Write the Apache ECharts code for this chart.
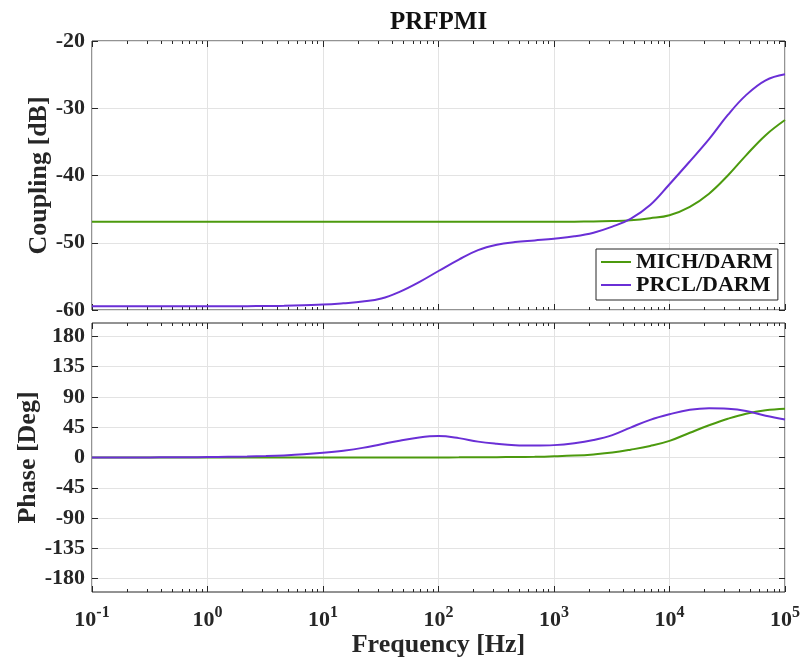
<!DOCTYPE html>
<html>
<head>
<meta charset="utf-8">
<title>PRFPMI</title>
<script src="https://cdn.jsdelivr.net/npm/echarts@6/dist/echarts.min.js"></script>
<style>
  html, body { margin: 0; padding: 0; background: #ffffff; }
  #chart { width: 804px; height: 665px; }
</style>
</head>
<body>
<div id="chart"></div>
<script>
// Frequency samples (Hz), six per decade, shared by every trace
const freqHz = [0.1, 0.15, 0.22, 0.32, 0.46, 0.68,
  1, 1.5, 2.2, 3.2, 4.6, 6.8,
  10, 15, 22, 32, 46, 68,
  100, 150, 220, 320, 460, 680,
  1000, 1500, 2200, 3200, 4600, 6800,
  10000, 15000, 22000, 32000, 46000, 68000,
  100000];

// Coupling magnitude (dB)
const michMagDb = [-46.87, -46.87, -46.87, -46.87, -46.87, -46.87,
  -46.87, -46.87, -46.87, -46.87, -46.87, -46.87,
  -46.87, -46.87, -46.87, -46.87, -46.87, -46.87,
  -46.87, -46.87, -46.87, -46.87, -46.87, -46.87,
  -46.87, -46.86, -46.85, -46.78, -46.65, -46.35,
  -45.9, -44.65, -42.7, -40.0, -37.0, -34.0,
  -31.75];
const prclMagDb = [-59.45, -59.45, -59.45, -59.45, -59.45, -59.45,
  -59.45, -59.44, -59.43, -59.41, -59.37, -59.28,
  -59.2, -59.0, -58.75, -58.3, -57.3, -55.85,
  -54.2, -52.5, -51.1, -50.3, -49.9, -49.65,
  -49.4, -49.05, -48.5, -47.6, -46.45, -44.4,
  -41.3, -37.9, -34.6, -31.0, -28.05, -25.85,
  -24.95];

// Coupling phase (deg)
const michPhaseDeg = [0, 0, 0, 0, 0, 0,
  0, 0, 0, 0, 0, 0,
  0, 0.02, 0.03, 0.05, 0.07, 0.1,
  0.15, 0.2, 0.3, 0.45, 0.7, 1.0,
  1.7, 2.8, 4.6, 7.3, 11.6, 17.2,
  24.7, 36.8, 47.9, 57.6, 65.2, 70.3,
  72.6];
const prclPhaseDeg = [0, 0.05, 0.1, 0.15, 0.25, 0.4,
  0.6, 0.95, 1.4, 2.1, 3.1, 4.7,
  7.0, 10.2, 14.3, 19.8, 25.0, 29.8,
  31.8, 28.8, 23.6, 20.4, 18.3, 17.8,
  18.4, 21.2, 26.0, 33.3, 44.5, 56.0,
  64.3, 71.0, 73.3, 72.6, 69.3, 62.0,
  56.5];

// Tick values
const magTicks = [-60, -50, -40, -30, -20];
const phaseTicks = [-180, -135, -90, -45, 0, 45, 90, 135, 180];

const seriesNames = ['MICH/DARM', 'PRCL/DARM'];
const seriesColors = ['#4c9a0e', '#6a2fd6'];

const FONT = 'Liberation Serif';
const INK = '#262626';
const GRID_COLOR = '#e3e3e3';

const pairs = (ys) => freqHz.map((f, i) => [f, ys[i]]);

// Decade labels as 10 with a raised exponent
function freqLabel(v) {
  const e = Math.round(Math.log10(v));
  return '{b|10}{s|' + e + '}';
}

const plotLeft = 92, plotWidth = 693;
const grids = [
  { left: plotLeft, top: 41, width: plotWidth, height: 269 },
  { left: plotLeft, top: 323, width: plotWidth, height: 269 }
].map(g => Object.assign(g, { show: true, borderColor: INK, borderWidth: 1, backgroundColor: '#fff' }));

function xAxisFor(gridIndex, position, withLabels) {
  const labelled = withLabels && gridIndex === 1;
  return {
    type: 'log', logBase: 10, min: 0.1, max: 100000,
    gridIndex, position,
    axisLine: { show: false, onZero: false },
    axisTick: { show: true, inside: true, length: 6, lineStyle: { color: INK, width: 1 } },
    minorTick: { show: true, splitNumber: 9, length: 3, lineStyle: { color: INK, width: 1 } },
    splitLine: { show: withLabels, lineStyle: { color: GRID_COLOR, width: 1 } },
    minorSplitLine: { show: false },
    axisLabel: labelled ? {
      show: true, margin: 13, formatter: freqLabel,
      rich: {
        b: { fontFamily: FONT, fontWeight: 'bold', fontSize: 22, color: INK, lineHeight: 26, verticalAlign: 'bottom' },
        s: { fontFamily: FONT, fontWeight: 'bold', fontSize: 16, color: INK, lineHeight: 18, verticalAlign: 'top' }
      }
    } : { show: false },
    name: labelled ? 'Frequency [Hz]' : '',
    nameLocation: 'middle', nameGap: 40, nameMoveOverlap: false,
    nameTextStyle: { fontFamily: FONT, fontWeight: 'bold', fontSize: 26, color: INK }
  };
}

function yAxisFor(gridIndex, position, withLabels) {
  const isMag = gridIndex === 0;
  const base = {
    type: 'value', gridIndex, position,
    axisLine: { show: false, onZero: false },
    axisTick: { show: true, inside: true, length: 6, lineStyle: { color: INK, width: 1 } },
    splitLine: { show: withLabels, lineStyle: { color: GRID_COLOR, width: 1 } },
    axisLabel: withLabels ? {
      show: true, margin: 7, fontFamily: FONT, fontWeight: 'bold', fontSize: 22, color: INK
    } : { show: false },
    name: withLabels ? (isMag ? 'Coupling [dB]' : 'Phase [Deg]') : '',
    nameLocation: 'middle', nameRotate: 90, nameMoveOverlap: false,
    nameGap: isMag ? 40 : 51,
    nameTextStyle: { fontFamily: FONT, fontWeight: 'bold', fontSize: 26, color: INK }
  };
  if (isMag) {
    return Object.assign(base, { min: magTicks[0], max: magTicks[magTicks.length - 1], interval: 10 });
  }
  base.min = -200;
  base.max = 200;
  base.axisTick.customValues = phaseTicks;
  if (withLabels) base.axisLabel.customValues = phaseTicks;
  return base;
}

const chart = echarts.init(document.getElementById('chart'), null, { renderer: 'canvas' });

const lineSeries = (name, color, xi, yi, data) => ({
  name, type: 'line', xAxisIndex: xi, yAxisIndex: yi, data,
  symbol: 'none', smooth: 0.4,
  lineStyle: { color, width: 2 }, itemStyle: { color },
  clip: true, z: 3
});

chart.setOption({
  animation: false,
  backgroundColor: '#ffffff',
  title: {
    text: 'PRFPMI', left: 385, top: 5,
    textStyle: { fontFamily: FONT, fontWeight: 'bold', fontSize: 25, color: '#111' }
  },
  legend: {
    data: seriesNames,
    orient: 'vertical', left: 596, top: 249,
    icon: 'rect', itemWidth: 30, itemHeight: 2, itemGap: 1,
    padding: [2, 5, 4, 5],
    borderColor: INK, borderWidth: 1, backgroundColor: '#ffffff',
    textStyle: { fontFamily: FONT, fontWeight: 'bold', fontSize: 22, color: '#111', lineHeight: 22 }
  },
  grid: grids,
  xAxis: [
    xAxisFor(0, 'bottom', true),
    xAxisFor(1, 'bottom', true),
    xAxisFor(0, 'top', false),
    xAxisFor(1, 'top', false)
  ],
  yAxis: [
    yAxisFor(0, 'left', true),
    yAxisFor(1, 'left', true),
    yAxisFor(0, 'right', false),
    yAxisFor(1, 'right', false)
  ],
  series: [
    lineSeries(seriesNames[0], seriesColors[0], 0, 0, pairs(michMagDb)),
    lineSeries(seriesNames[1], seriesColors[1], 0, 0, pairs(prclMagDb)),
    lineSeries(seriesNames[0], seriesColors[0], 1, 1, pairs(michPhaseDeg)),
    lineSeries(seriesNames[1], seriesColors[1], 1, 1, pairs(prclPhaseDeg))
  ]
});
</script>
</body>
</html>
